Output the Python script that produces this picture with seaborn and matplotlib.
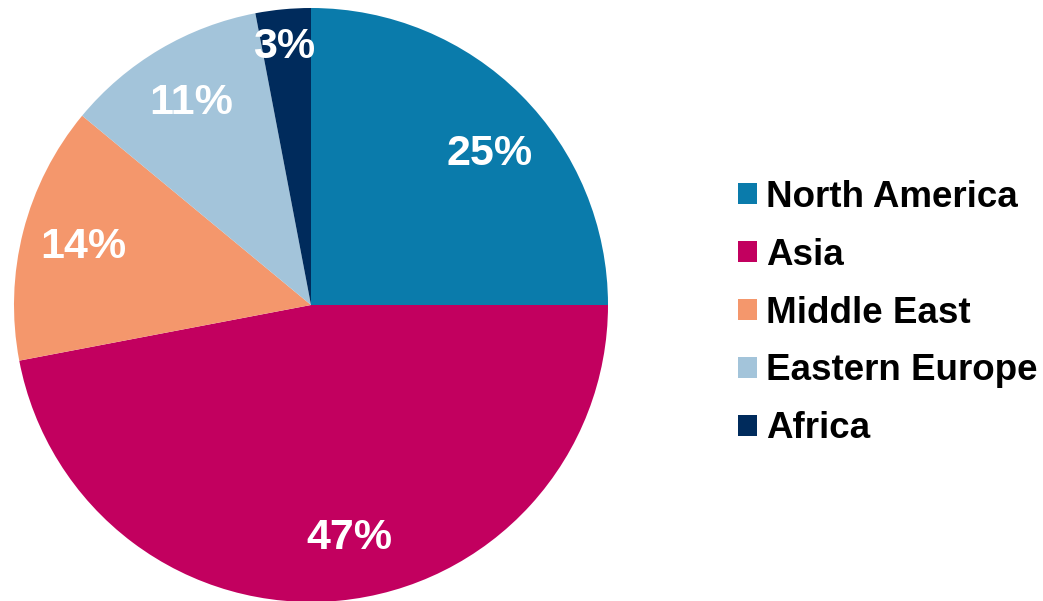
import matplotlib
matplotlib.use("Agg")
import matplotlib.pyplot as plt
import seaborn as sns

# data
regions = ["North America", "Asia", "Middle East", "Eastern Europe", "Africa"]
shares = [25, 47, 14, 11, 3]
colors = ["#0A7BAB", "#C2005F", "#F4976C", "#A3C4DA", "#002B5C"]

sns.set_theme(style="white")
plt.rcParams["font.family"] = ["Liberation Sans", "DejaVu Sans"]

fig = plt.figure(figsize=(10.43, 6.01), dpi=100)
# pie centred at about (311, 305) px with radius ~297 px
ax = fig.add_axes([14 / 1043, -1 / 601, 594 / 1043, 594 / 601])

wedges, texts, autotexts = ax.pie(
    shares,
    colors=colors,
    startangle=90,
    counterclock=False,
    autopct="%d%%",
    pctdistance=0.79,
    radius=1,
    wedgeprops=dict(linewidth=0),
    textprops=dict(color="white", fontsize=31, fontweight="bold"),
)
# nudge a few labels to where the original puts them (axes units)
label_pos = {0: (0.60, 0.51), 1: (0.13, -0.785), 4: (-0.09, 0.87)}
for i, xy in label_pos.items():
    autotexts[i].set_position(xy)

ax.set_xlim(-1, 1)
ax.set_ylim(-1, 1)
ax.set_aspect("equal")
ax.axis("off")

# legend on the right
leg = fig.legend(
    wedges, regions,
    loc="center left",
    bbox_to_anchor=(0.676, 0.479),
    frameon=False,
    prop=dict(size=26.5, weight="bold"),
    handlelength=0.5,
    handleheight=0.5,
    handletextpad=0.25,
    labelspacing=0.62,
)
for t in leg.get_texts():
    t.set_color("black")

fig.savefig("out.png", dpi=100)
